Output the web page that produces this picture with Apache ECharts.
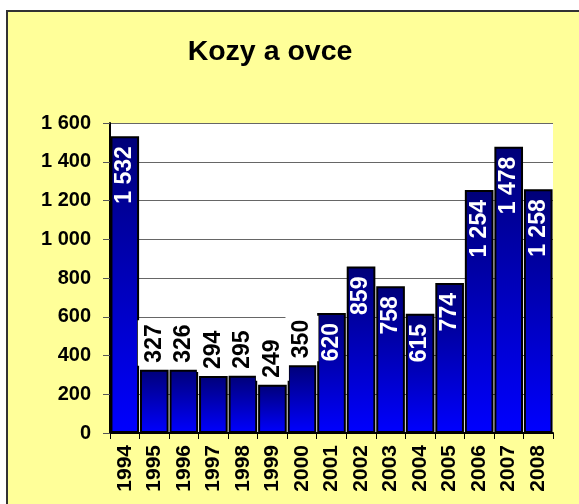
<!DOCTYPE html>
<html>
<head>
<meta charset="utf-8">
<script src="https://cdn.jsdelivr.net/npm/echarts@6/dist/echarts.min.js"></script>
<style>
  html, body { margin: 0; padding: 0; background: #ffffff; }
  #chart { width: 579px; height: 504px; }
</style>
</head>
<body>
<div id="chart"></div>
<script>
// Goats and sheep, yearly totals
const years = ['1994','1995','1996','1997','1998','1999','2000','2001','2002','2003','2004','2005','2006','2007','2008'];
const counts = [1532, 327, 326, 294, 295, 249, 350, 620, 859, 758, 615, 774, 1254, 1478, 1258];
const yTicks = { min: 0, max: 1600, step: 200 };

// "1 532" style thousands grouping
function fmt(v) {
  return String(v).replace(/\B(?=(\d{3})+(?!\d))/g, ' ');
}

const FONT = 'Liberation Sans, Arial, sans-serif';

const barFill = {
  type: 'linear', x: 0, y: 0, x2: 0, y2: 1,
  colorStops: [
    { offset: 0, color: '#000078' },
    { offset: 1, color: '#0000ff' }
  ]
};

// tall bars carry their value inside in white; short ones above on a white box
const barData = counts.map(v => {
  const inside = v > 500;
  return {
    value: v,
    label: inside ? {
      position: 'insideTop',
      distance: 10,
      rotate: 90,
      align: 'right',
      verticalAlign: 'middle',
      color: '#ffffff'
    } : {
      position: 'top',
      distance: 4,
      rotate: 90,
      align: 'left',
      verticalAlign: 'middle',
      color: '#000000',
      backgroundColor: '#ffffff',
      padding: [5, 4, 5, 3]
    }
  };
});

const chart = echarts.init(document.getElementById('chart'), null, { renderer: 'canvas' });
chart.setOption({
  animation: false,
  backgroundColor: '#ffffff',
  graphic: [{
    type: 'rect',
    z: -10,
    shape: { x: 7, y: 11, width: 620, height: 540 },
    style: { fill: '#ffff99', stroke: '#333333', lineWidth: 2 }
  }],
  title: {
    text: 'Kozy a ovce',
    left: 265,
    top: 33,
    textAlign: 'center',
    textStyle: { fontFamily: FONT, fontWeight: 'bold', fontSize: 28.5, color: '#000000' }
  },
  grid: {
    left: 110, right: 26, top: 123, bottom: 71,
    show: true, backgroundColor: '#ffffff', borderWidth: 0
  },
  xAxis: {
    type: 'category',
    data: years,
    axisLine: { lineStyle: { color: '#000000', width: 2 } },
    axisTick: { show: true, length: 6, lineStyle: { color: '#000000' } },
    axisLabel: {
      rotate: 90,
      margin: 12,
      fontFamily: FONT, fontWeight: 'bold', fontSize: 21, color: '#000000'
    }
  },
  yAxis: {
    type: 'value',
    min: yTicks.min, max: yTicks.max, interval: yTicks.step,
    axisLine: { show: true, lineStyle: { color: '#000000', width: 2 } },
    axisTick: { show: true, inside: false, length: 7, lineStyle: { color: '#555555' } },
    splitLine: { show: true, lineStyle: { color: '#666666', width: 1 } },
    axisLabel: {
      margin: 19,
      formatter: fmt,
      fontFamily: FONT, fontWeight: 'bold', fontSize: 20, color: '#000000'
    }
  },
  series: [{
    type: 'bar',
    data: barData,
    barCategoryGap: '3%',
    itemStyle: { color: barFill, borderColor: '#000000', borderWidth: 2 },
    label: {
      show: true,
      formatter: p => fmt(p.value),
      fontFamily: FONT, fontWeight: 'bold', fontSize: 23
    }
  }]
});
</script>
</body>
</html>
